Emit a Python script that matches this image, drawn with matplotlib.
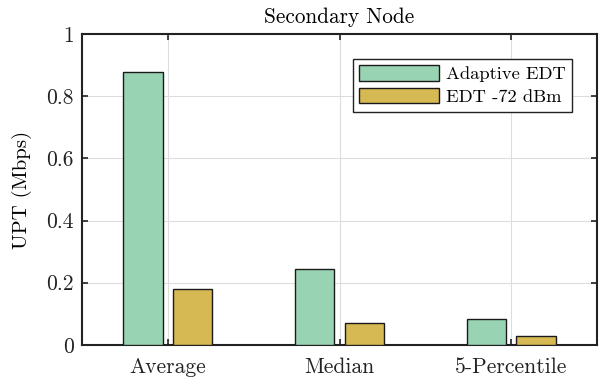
import matplotlib
matplotlib.use("Agg")
import matplotlib.pyplot as plt
import numpy as np

categories = ["Average", "Median", "5-Percentile"]
adaptive_edt = [0.878, 0.244, 0.084]
edt_72 = [0.180, 0.071, 0.029]

plt.rcParams['font.family'] = 'serif'
plt.rcParams['font.serif'] = ['cmr10']
plt.rcParams['mathtext.fontset'] = 'cm'
plt.rcParams['axes.formatter.use_mathtext'] = True

fig = plt.figure(figsize=(6.02, 3.79), dpi=100)
ax = fig.add_axes([0.136, 0.090, 0.856, 0.820])

x = np.arange(1, len(categories) + 1)
w = 0.23
ax.bar(x - 0.145, adaptive_edt, w, color='#98d4b4', edgecolor='#1a1a1a',
       linewidth=1.0, label='Adaptive EDT', zorder=3)
ax.bar(x + 0.145, edt_72, w, color='#d6b952', edgecolor='#1a1a1a',
       linewidth=1.0, label='EDT -72 dBm', zorder=3)

ax.set_xlim(0.5, 3.5)
ax.set_ylim(0, 1)
ax.set_xticks(x)
ax.set_xticklabels(categories, fontsize=15.5)
ax.set_yticks([0, 0.2, 0.4, 0.6, 0.8, 1])
ax.set_yticklabels(['0', '0.2', '0.4', '0.6', '0.8', '1'], fontsize=15.5)
ax.tick_params(direction='in', top=True, right=True, length=4, width=1.2,
               colors='#222222')
ax.tick_params(axis='x', pad=9)
ax.tick_params(axis='y', pad=6)
for s in ax.spines.values():
    s.set_linewidth(1.5)
    s.set_color('#222222')
ax.grid(True, color='#dddddd', linewidth=0.8, zorder=0)
ax.set_axisbelow(True)

ax.set_ylabel('UPT (Mbps)', fontsize=15, labelpad=10)
ax.set_title('Secondary Node', fontsize=15.3, pad=8)

leg = ax.legend(loc='upper right', bbox_to_anchor=(0.952, 0.92), fontsize=13.3,
                fancybox=False, framealpha=1, edgecolor='#222222',
                handlelength=4.3, handleheight=0.9, borderpad=0.35,
                labelspacing=0.3, handletextpad=0.4, borderaxespad=0)
leg.get_frame().set_linewidth(1.0)

fig.savefig('out.png', dpi=100)
